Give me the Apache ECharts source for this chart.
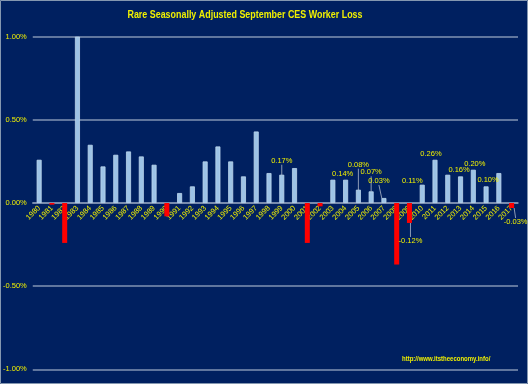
<!DOCTYPE html>
<html>
<head>
<meta charset="utf-8">
<script src="https://cdn.jsdelivr.net/npm/echarts@6/dist/echarts.min.js"></script>
<style>
html,body{margin:0;padding:0;background:#002060;}
#chart{width:528px;height:384px;}
</style>
</head>
<body>
<div id="chart"></div>
<script>
const titleText = 'Rare Seasonally Adjusted September CES Worker Loss';
const sourceText = 'http://www.itstheeconomy.info/';
const years = ['1980','1981','1982','1983','1984','1985','1986','1987','1988','1989',
  '1990','1991','1992','1993','1994','1995','1996','1997','1998','1999',
  '2000','2001','2002','2003','2004','2005','2006','2007','2008','2009',
  '2010','2011','2012','2013','2014','2015','2016','2017'];
const changePct = [0.26,-0.01,-0.24,1.00,0.35,0.22,0.29,0.31,0.28,0.23,
  -0.08,0.06,0.10,0.25,0.34,0.25,0.16,0.43,0.18,0.17,
  0.21,-0.24,-0.02,0.14,0.14,0.08,0.07,0.03,-0.37,-0.12,
  0.11,0.26,0.17,0.16,0.20,0.10,0.18,-0.03];
const labelledYears = ['1999','2004','2005','2006','2007','2009','2010','2011','2013','2014','2015','2017'];
const yTicks = [-1.0,-0.5,0,0.5,1.0];

const YEL = '#F0F000';
const FONT = "'Liberation Sans',sans-serif";

// label nudges (style only)
const nudge = {
  '1999':[0,-8,true], '2004':[-3,0,false], '2005':[0,-19,true], '2006':[0,-13,true],
  '2007':[-5,-11,true], '2009':[1,12,true], '2010':[-10,2,false], '2011':[-4,0,false],
  '2013':[-1.5,0,false], '2014':[1.5,0,false], '2015':[2,0,false], '2017':[4,8,true]
};

const data = changePct.map((v,i)=>{
  const y = years[i];
  const item = {value:v, itemStyle:{color: v<0?'#FF0000':'#9DC3E6', borderColor: v<0?'#FF0000':'#BDD7EE', borderWidth: v<0?0:0.8}};
  if (labelledYears.includes(y)) {
    item.label = {show:true, position: v<0?'bottom':'top', distance:2,
      formatter: v.toFixed(2)+'%', color:YEL, fontSize:7.5, fontFamily:FONT};
    if (nudge[y][2]) item.labelLine = {show:true, lineStyle:{color:'#8C9AB5', width:1}};
  }
  return item;
});

const gridTop = 36.7, gridBottom = 14.7, H = 384;
const plotH = H - gridTop - gridBottom;
const zeroOffset = -plotH * (0 - yTicks[0]) / (yTicks[yTicks.length-1] - yTicks[0]);

const chart = echarts.init(document.getElementById('chart'), null, {renderer:'canvas'});
chart.setOption({
  backgroundColor:'#002060',
  animation:false,
  grid:{left:30, right:10, top:gridTop, bottom:gridBottom},
  xAxis:{type:'category', data:years, position:'bottom', offset:zeroOffset,
    axisLine:{onZero:false, lineStyle:{color:'#8093B3', width:1.5}},
    axisTick:{show:false},
    axisLabel:{interval:0, rotate:45, color:YEL, fontSize:7.5, fontFamily:FONT, margin:4}},
  yAxis:{type:'value', min:yTicks[0], max:yTicks[yTicks.length-1], interval:0.5,
    axisLine:{show:false}, axisTick:{show:false},
    splitLine:{lineStyle:{color:'#8093B3', width:1.5}},
    axisLabel:{color:YEL, fontSize:7.5, fontFamily:FONT, margin:6,
      formatter:(v)=>v.toFixed(2)+'%'}},
  series:[{type:'bar', data:data, barWidth:5,
    labelLayout:(p)=>{const n=nudge[years[p.dataIndex]]; return n?{dx:n[0],dy:n[1]}:{};}}],
  graphic:[
    {type:'text', x:245, y:15, scaleX:0.81, style:{text:titleText, fill:YEL, fontSize:11, fontWeight:'bold', fontFamily:FONT, align:'center', verticalAlign:'middle'}},
    {type:'text', x:402, y:359, scaleX:0.8, style:{text:sourceText, fill:YEL, fontSize:7.5, fontWeight:'bold', fontFamily:FONT, align:'left', verticalAlign:'middle'}},
    {type:'rect', shape:{x:0.5,y:0.5,width:527,height:383}, style:{fill:'none', stroke:'#8497B0', lineWidth:1}, silent:true}
  ]
});
</script>
</body>
</html>
